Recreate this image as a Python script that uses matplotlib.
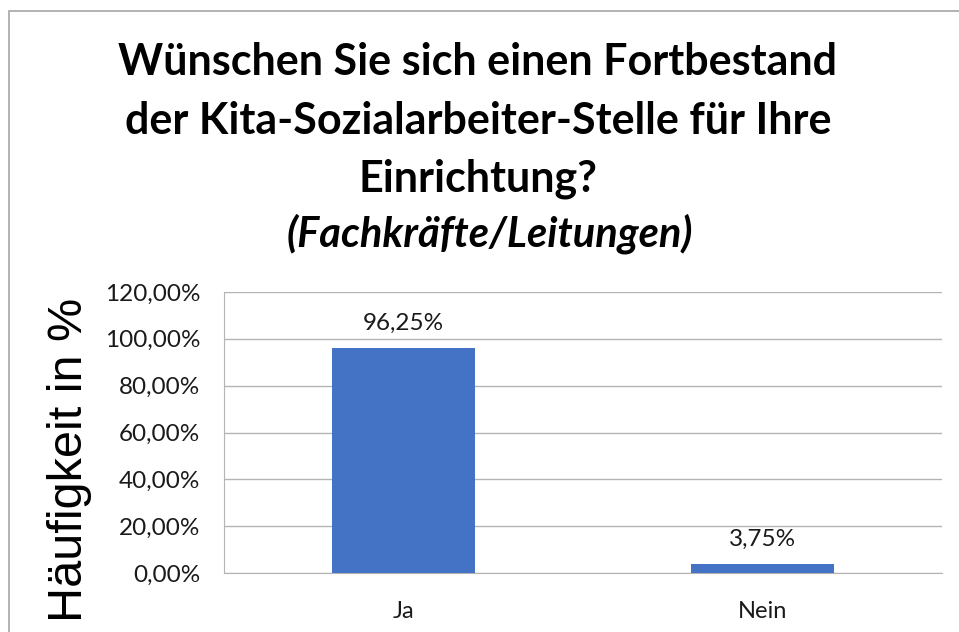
import matplotlib
matplotlib.use("Agg")
import matplotlib.pyplot as plt
from matplotlib.ticker import FuncFormatter, MultipleLocator
from matplotlib.patches import Rectangle

categories = ["Ja", "Nein"]
values = [96.25, 3.75]
title_lines = ["Wünschen Sie sich einen Fortbestand",
               "der Kita-Sozialarbeiter-Stelle für Ihre",
               "Einrichtung?"]
subtitle = "(Fachkräfte/Leitungen)"
ylabel = "Häufigkeit in %"

W, H = 959, 632
fig = plt.figure(figsize=(W / 100, H / 100), dpi=100)
fig.patch.set_facecolor("white")

# outer chart border (left and top only visible)
fig.add_artist(Rectangle((9 / W, -0.1), 1.2, (H - 11) / H + 0.1, transform=fig.transFigure,
                         fill=False, edgecolor="#A6A6A6", linewidth=1.2))

L, R, T, B = 224, 942, 292, 573
ax = fig.add_axes([L / W, (H - B) / H, (R - L) / W, (B - T) / H])
ax.bar(range(len(categories)), values, width=0.4, color="#4472C4", zorder=3)
ax.set_xlim(-0.5, len(categories) - 0.5)
ax.set_ylim(0, 120)
ax.yaxis.set_major_locator(MultipleLocator(20))
ax.yaxis.set_major_formatter(FuncFormatter(lambda v, p: f"{v:.2f}".replace(".", ",") + "%"))
ax.set_xticks(range(len(categories)))
ax.set_xticklabels(categories)
ax.grid(axis="y", color="#B4B4B4", linewidth=1.0, zorder=0)
for s in ["top", "right"]:
    ax.spines[s].set_visible(False)
ax.spines["left"].set_color("#B4B4B4")
ax.spines["bottom"].set_color("#B4B4B4")
ax.tick_params(axis="both", length=0, colors="#1a1a1a")
ax.tick_params(axis="y", pad=17, labelsize=17.5)
ax.tick_params(axis="x", pad=20, labelsize=17)
for lab in ax.get_xticklabels() + ax.get_yticklabels():
    lab.set_family("Lato")

for i, v in enumerate(values):
    ax.annotate(f"{v:.2f}".replace(".", ",") + "%", (i, v), xytext=(0, 13),
                textcoords="offset points", ha="center", va="baseline",
                fontsize=17.5, family="Lato", color="#1a1a1a")

fig.text(70 / W, 1 - 460 / H, ylabel, rotation=90, ha="center", va="center",
         fontsize=35, family="Liberation Sans", color="black")

baselines = [75, 134, 191]
for line, yb in zip(title_lines, baselines):
    fig.text(478 / W, 1 - yb / H, line, ha="center", va="baseline",
             fontsize=31, fontweight="bold", family="Lato", color="black")
fig.text(490 / W, 1 - 247 / H, subtitle, ha="center", va="baseline",
         fontsize=30, fontweight="bold", style="italic", family="Lato", color="black")

fig.savefig("out.png", dpi=100, facecolor="white")
